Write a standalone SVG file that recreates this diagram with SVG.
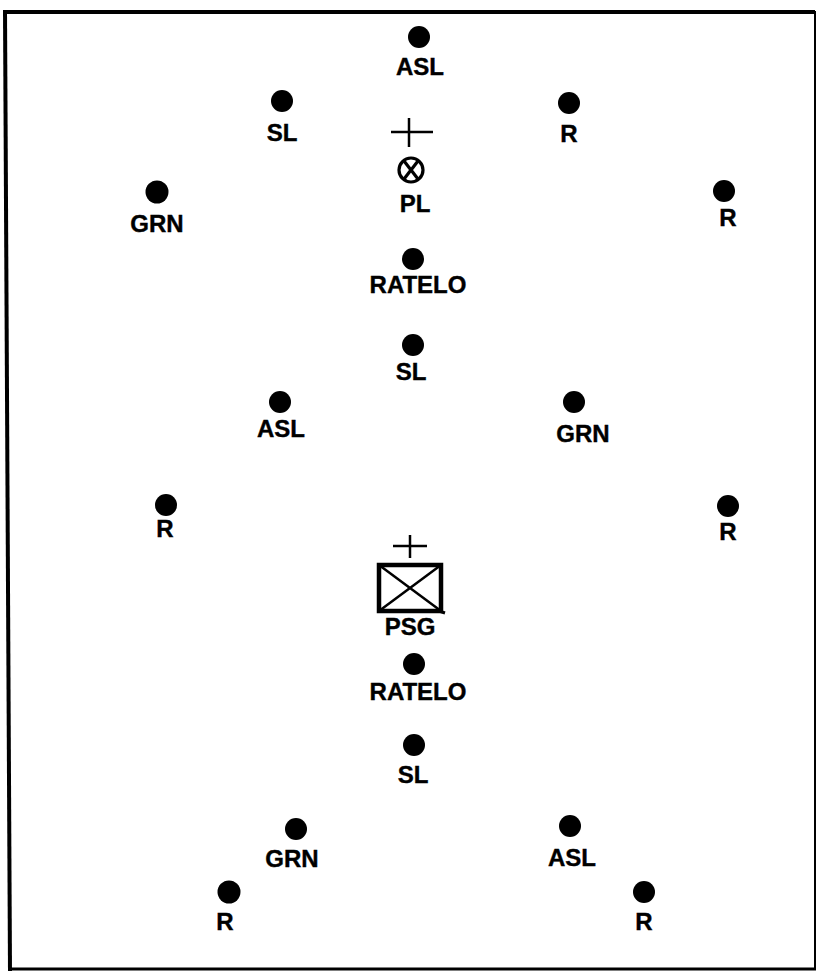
<svg xmlns="http://www.w3.org/2000/svg" width="817" height="971" viewBox="0 0 817 971">
  <style>
    .dot { fill: #000; }
    .lbl { font-family: "Liberation Sans", Arial, sans-serif; font-weight: bold; font-size: 24px; fill: #000; stroke: #000; stroke-width: 0.4; text-anchor: middle; }
    .frame { stroke: #000; fill: none; }
    .sym { stroke: #000; fill: none; }
  </style>
  <rect width="817" height="971" fill="#fff"/>

  <!-- outer frame -->
  <g id="frame">
    <line class="frame" x1="3" y1="12" x2="815" y2="12" stroke-width="4"/>
    <line class="frame" x1="5" y1="10" x2="10" y2="971" stroke-width="4"/>
    <line class="frame" x1="815" y1="11" x2="815" y2="969" stroke-width="2"/>
    <line class="frame" x1="8" y1="969" x2="816" y2="969" stroke-width="3"/>
  </g>

  <!-- leading element -->
  <g id="asl-1"><circle class="dot" cx="419" cy="37" r="11"/><text class="lbl" x="420" y="75">ASL</text></g>
  <g id="sl-1"><circle class="dot" cx="282" cy="101" r="11"/><text class="lbl" x="282" y="141">SL</text></g>
  <g id="r-1"><circle class="dot" cx="569" cy="103" r="11"/><text class="lbl" x="569" y="142">R</text></g>
  <g id="pl">
    <line class="sym" x1="391" y1="132" x2="433" y2="132" stroke-width="2.5"/>
    <line class="sym" x1="409" y1="118" x2="409" y2="147" stroke-width="2.5"/>
    <circle class="sym" cx="411" cy="170" r="12" stroke-width="3.2"/>
    <line class="sym" x1="404" y1="161" x2="418" y2="179" stroke-width="3.2"/>
    <line class="sym" x1="418" y1="161" x2="404" y2="179" stroke-width="3.2"/>
    <text class="lbl" x="415" y="212">PL</text>
  </g>
  <g id="grn-1"><circle class="dot" cx="157" cy="192" r="11.5"/><text class="lbl" x="157" y="232">GRN</text></g>
  <g id="r-2"><circle class="dot" cx="724" cy="191" r="11"/><text class="lbl" x="728" y="226">R</text></g>
  <g id="ratelo-1"><circle class="dot" cx="413" cy="259" r="11"/><text class="lbl" x="418" y="293">RATELO</text></g>
  <g id="sl-2"><circle class="dot" cx="413" cy="345" r="11"/><text class="lbl" x="411" y="380">SL</text></g>
  <g id="asl-2"><circle class="dot" cx="280" cy="402" r="11"/><text class="lbl" x="281" y="437">ASL</text></g>
  <g id="grn-2"><circle class="dot" cx="574" cy="402" r="11"/><text class="lbl" x="583" y="442">GRN</text></g>
  <g id="r-3"><circle class="dot" cx="166" cy="505" r="11"/><text class="lbl" x="165" y="537">R</text></g>
  <g id="r-4"><circle class="dot" cx="728" cy="506" r="11"/><text class="lbl" x="728" y="540">R</text></g>

  <!-- trailing element -->
  <g id="psg">
    <line class="sym" x1="393" y1="546" x2="427" y2="546" stroke-width="2.5"/>
    <line class="sym" x1="410" y1="535" x2="410" y2="558" stroke-width="2.5"/>
    <rect class="sym" x="379" y="565" width="62" height="46" stroke-width="4.5"/>
    <line class="sym" x1="379" y1="565" x2="441" y2="611" stroke-width="2.5"/>
    <line class="sym" x1="441" y1="565" x2="379" y2="611" stroke-width="2.5"/>
    <line class="sym" x1="439" y1="611" x2="445" y2="613" stroke-width="3"/>
    <text class="lbl" x="410" y="635">PSG</text>
  </g>
  <g id="ratelo-2"><circle class="dot" cx="414" cy="664" r="11"/><text class="lbl" x="418" y="700">RATELO</text></g>
  <g id="sl-3"><circle class="dot" cx="414" cy="745" r="11"/><text class="lbl" x="413" y="783">SL</text></g>
  <g id="grn-3"><circle class="dot" cx="296" cy="829" r="11"/><text class="lbl" x="292" y="867">GRN</text></g>
  <g id="asl-3"><circle class="dot" cx="570" cy="826" r="11"/><text class="lbl" x="572" y="866">ASL</text></g>
  <g id="r-5"><circle class="dot" cx="229" cy="892" r="11.5"/><text class="lbl" x="225" y="930">R</text></g>
  <g id="r-6"><circle class="dot" cx="644" cy="892" r="11"/><text class="lbl" x="644" y="930">R</text></g>

  <g id="connectors"/>
</svg>
